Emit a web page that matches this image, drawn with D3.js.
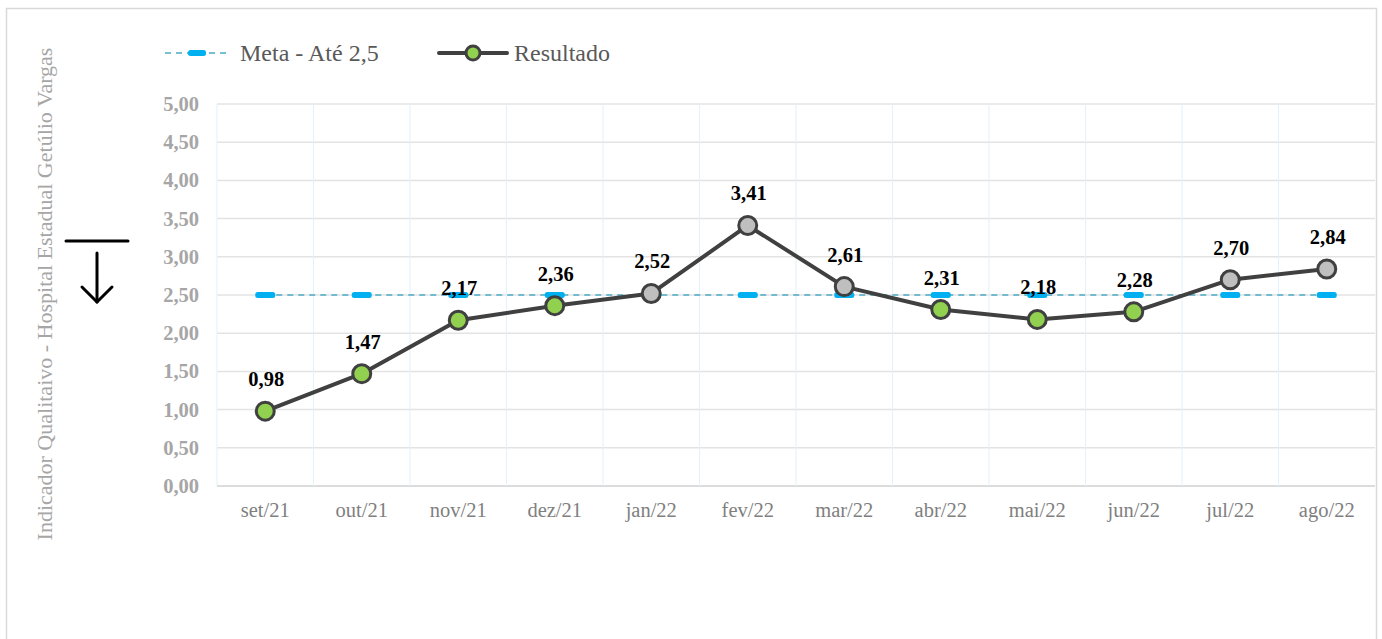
<!DOCTYPE html>
<html>
<head>
<meta charset="utf-8">
<script src="https://cdn.jsdelivr.net/npm/d3@7"></script>
<style>
  html, body { margin: 0; padding: 0; background: #fff; }
  svg { display: block; font-family: "Liberation Serif", "Times New Roman", serif; }
</style>
</head>
<body>
<svg id="chart" width="1382" height="639"></svg>
<script>
const months = ["set/21", "out/21", "nov/21", "dez/21", "jan/22", "fev/22", "mar/22", "abr/22", "mai/22", "jun/22", "jul/22", "ago/22"];
const resultado = [0.98, 1.47, 2.17, 2.36, 2.52, 3.41, 2.61, 2.31, 2.18, 2.28, 2.70, 2.84];
const meta = [2.5, 2.5, 2.5, 2.5, 2.5, 2.5, 2.5, 2.5, 2.5, 2.5, 2.5, 2.5];
const yTicks = [0, 0.5, 1, 1.5, 2, 2.5, 3, 3.5, 4, 4.5, 5];
const metaLabel = "Meta - Até 2,5";
const resultLabel = "Resultado";
const yTitle = "Indicador Qualitaivo - Hospital Estadual Getúlio Vargas";

const svg = d3.select("#chart");
const fmt = v => d3.format(".2f")(v).replace(".", ",");

// outer chart frame
svg.append("rect").attr("x", 6.5).attr("y", 8.5).attr("width", 1370).attr("height", 660)
  .attr("fill", "#fff").attr("stroke", "#d9d9d9").attr("stroke-width", 1.5);

const plot = { left: 217, right: 1375, top: 104, bottom: 486 };
const x = d3.scaleBand().domain(months).range([plot.left, plot.right]);
const y = d3.scaleLinear().domain([0, 5]).range([plot.bottom, plot.top]);
const cx = m => x(m) + x.bandwidth() / 2;

// horizontal gridlines
svg.append("g").selectAll("line").data(yTicks).join("line")
  .attr("x1", plot.left).attr("x2", plot.right)
  .attr("y1", d => y(d)).attr("y2", d => y(d))
  .attr("stroke", d => d === 0 ? "#d0d0d0" : "#e3e3e3").attr("stroke-width", 1.5);

// vertical gridlines at category boundaries
svg.append("g").selectAll("line").data(months).join("line")
  .attr("x1", d => x(d)).attr("x2", d => x(d))
  .attr("y1", plot.top).attr("y2", plot.bottom)
  .attr("stroke", "#e2f1fa").attr("stroke-width", 1);

// y-axis tick labels
const yAxis = svg.append("g").attr("transform", `translate(${plot.left - 18},0)`)
  .call(d3.axisLeft(y).tickValues(yTicks).tickFormat(fmt).tickSize(0).tickPadding(0));
yAxis.select(".domain").remove();
yAxis.selectAll("text").attr("font-family", "Liberation Serif, serif").attr("font-size", 20.5)
  .attr("font-weight", "bold").attr("fill", "#a6a6a6");

// x-axis labels
const xAxis = svg.append("g").attr("transform", `translate(0,${plot.bottom + 12})`)
  .call(d3.axisBottom(x).tickSize(0).tickPadding(4));
xAxis.select(".domain").remove();
xAxis.selectAll("text").attr("font-family", "Liberation Serif, serif").attr("font-size", 20.5)
  .attr("fill", "#7f7f7f");

// y-axis title
svg.append("text").attr("transform", "translate(52,294) rotate(-90)")
  .attr("text-anchor", "middle").attr("font-size", 22).attr("fill", "#a6a6a6").text(yTitle);

// "lower is better" arrow symbol
const sym = svg.append("g").attr("stroke", "#000").attr("stroke-width", 3).attr("fill", "none")
  .attr("stroke-linecap", "round").attr("stroke-linejoin", "round");
sym.append("line").attr("x1", 66).attr("x2", 128).attr("y1", 241).attr("y2", 241);
sym.append("line").attr("x1", 97).attr("x2", 97).attr("y1", 253).attr("y2", 302);
sym.append("path").attr("d", "M82,287 L97,302 L112,287");

// target series: thin dashed line with bar markers
const metaLine = d3.line().x((d, i) => cx(months[i])).y(d => y(d));
svg.append("path").datum(meta).attr("d", metaLine).attr("fill", "none")
  .attr("stroke", "#4bacc6").attr("stroke-width", 1.5).attr("stroke-dasharray", "6,5");
svg.append("g").selectAll("rect").data(meta).join("rect")
  .attr("x", (d, i) => cx(months[i]) - 10).attr("y", d => y(d) - 3)
  .attr("width", 20).attr("height", 6).attr("rx", 2.5).attr("fill", "#00b0f0");

// result series
const resLine = d3.line().x((d, i) => cx(months[i])).y(d => y(d));
svg.append("path").datum(resultado).attr("d", resLine).attr("fill", "none")
  .attr("stroke", "#404040").attr("stroke-width", 4).attr("stroke-linejoin", "round");
svg.append("g").selectAll("circle").data(resultado).join("circle")
  .attr("cx", (d, i) => cx(months[i])).attr("cy", d => y(d)).attr("r", 9)
  .attr("fill", d => d <= 2.5 ? "#92d050" : "#bfbfbf")
  .attr("stroke", "#404040").attr("stroke-width", 3);

// value labels
svg.append("g").selectAll("text").data(resultado).join("text")
  .attr("x", (d, i) => cx(months[i]) + 1).attr("y", d => y(d) - 25)
  .attr("text-anchor", "middle").attr("font-size", 20.5).attr("font-weight", "bold")
  .attr("fill", "#000").text(fmt);

// legend
const lg = svg.append("g");
lg.append("line").attr("x1", 165).attr("x2", 230).attr("y1", 53).attr("y2", 53)
  .attr("stroke", "#4bacc6").attr("stroke-width", 1.5).attr("stroke-dasharray", "6,5");
lg.append("rect").attr("x", 188).attr("y", 50).attr("width", 18).attr("height", 6)
  .attr("rx", 2.5).attr("fill", "#00b0f0");
lg.append("text").attr("x", 240).attr("y", 61).attr("font-size", 24).attr("fill", "#595959").text(metaLabel);
lg.append("line").attr("x1", 439).attr("x2", 507).attr("y1", 53).attr("y2", 53)
  .attr("stroke", "#404040").attr("stroke-width", 4).attr("stroke-linecap", "round");
lg.append("circle").attr("cx", 473).attr("cy", 53).attr("r", 7)
  .attr("fill", "#92d050").attr("stroke", "#404040").attr("stroke-width", 3);
lg.append("text").attr("x", 514).attr("y", 61).attr("font-size", 24).attr("fill", "#595959").text(resultLabel);
</script>
</body>
</html>
